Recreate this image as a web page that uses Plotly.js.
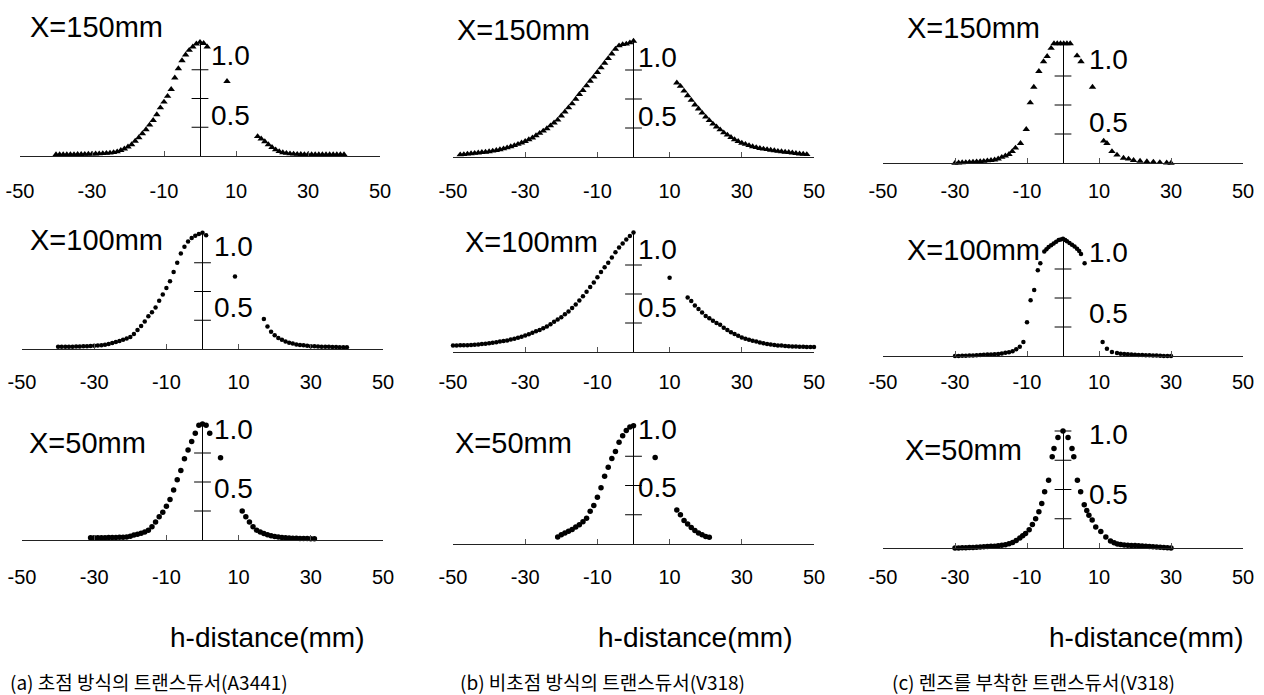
<!DOCTYPE html>
<html><head><meta charset="utf-8">
<script src="https://cdn.plot.ly/plotly-3.0.1.min.js"></script>
<style>html,body{margin:0;padding:0;background:#fff;} #chart{width:1264px;height:695px;}</style>
</head><body><div id="chart"></div>
<script>
// ---------------- DATA ----------------
const panelTitles = ['X=150mm','X=150mm','X=150mm','X=100mm','X=100mm','X=100mm','X=50mm','X=50mm','X=50mm'];
const xTickVals = [-50,-30,-10,10,30,50];
const yTickVals = [0.25,0.5,0.75];
const yTickValsFull = [0.25,0.5,0.75,1.0];
const yLabelTexts = ['1.0','0.5'];
const xAxisTitle = 'h-distance(mm)';
const captions = ['(a) 초점 방식의 트랜스듀서(A3441)','(b) 비초점 방식의 트랜스듀서(V318)','(c) 렌즈를 부착한 트랜스듀서(V318)'];

// (a) focused, X=150mm
const a150X = [-40,-39,-38,-37,-36,-35,-34,-33,-32,-31,-30,-29,-28,-27,-26,-25,-24,-23,-22,-21,-20,-19,-18,-17,-16,-15,-14,-13,-12,-11,-10,-9,-8,-7,-6,-5,-4,-3,-2,-1,0,1,2,
  7.5,
  16,17,18,19,20,21,22,23,24,25,26,27,28,29,30,31,32,33,34,35,36,37,38,39,40];
const a150Y = [.012,.012,.013,.013,.014,.014,.015,.015,.016,.017,.018,.019,.02,.022,.024,.027,.031,.038,.05,.063,.08,.10,.13,.16,.195,.23,.27,.31,.36,.42,.47,.52,.58,.68,.76,.83,.88,.92,.95,.975,.99,.98,.95,
  .65,
  .17,.15,.125,.10,.075,.055,.04,.03,.024,.02,.018,.016,.015,.014,.014,.013,.013,.013,.012,.012,.012,.012,.012,.012,.012];

// (b) non-focused, X=150mm
const b150X = [-48,-47,-46,-45,-44,-43,-42,-41,-40,-39,-38,-37,-36,-35,-34,-33,-32,-31,-30,-29,-28,-27,-26,-25,-24,-23,-22,-21,-20,-19,-18,-17,-16,-15,-14,-13,-12,-11,-10,-9,-8,-7,-6,-5,-4,-3,-2,-1,0,
  12,13,14,15,16,17,18,19,20,21,22,23,24,25,26,27,28,29,30,31,32,33,34,35,36,37,38,39,40,41,42,43,44,45,46,47,48];
const b150Y = [.02,.022,.026,.03,.033,.036,.04,.043,.047,.052,.058,.064,.072,.08,.09,.10,.11,.122,.135,.15,.165,.185,.205,.225,.245,.27,.295,.32,.355,.39,.425,.46,.50,.54,.575,.615,.655,.69,.73,.77,.81,.85,.89,.93,.96,.97,.975,.985,1.0,
  .64,.61,.57,.53,.49,.45,.415,.38,.345,.315,.285,.26,.235,.21,.19,.17,.15,.135,.12,.11,.10,.09,.082,.075,.07,.065,.06,.055,.05,.047,.043,.04,.036,.032,.028,.025,.022];

// (c) with lens, X=150mm
const c150X = [-30,-29,-28,-27,-26,-25,-24,-23,-22,-21,-20,-19,-18,-17,-16,-15,-14.1,-13.2,-11.8,-10.2,-9.1,-8.1,-6.7,-5.4,-4.4,-3.3,-2.5,-1.6,-0.7,0.2,1.1,2,3.9,5,
  8.2,11.3,12.2,13.6,15,16.8,18.2,19.6,21.4,23.3,25.1,26.9,28.8,30];
const c150Y = [0,.002,.004,.005,.007,.009,.011,.013,.016,.02,.023,.028,.036,.05,.062,.075,.10,.13,.17,.29,.52,.655,.79,.875,.92,.99,1.03,1.03,1.03,1.03,1.03,1.03,.925,.875,
  .655,.19,.17,.10,.07,.043,.035,.023,.017,.012,.009,.005,.002,0];

// (a) focused, X=100mm
const a100X = [-40,-39,-38,-37,-36,-35,-34,-33,-32,-31,-30,-29,-28,-27,-26,-25,-24,-23,-22,-21,-20,-19,-18,-17,-16,-15,-14,-13,-12,-11,-10,-9,-8,-7,-6,-5,-4,-3,-2,-1,0,1,
  9,
  17,18,19,20,21,22,23,24,25,26,27,28,29,30,31,32,33,34,35,36,37,38,39,40];
const a100Y = [.02,.02,.02,.02,.02,.021,.022,.023,.024,.026,.028,.03,.033,.038,.044,.052,.06,.07,.08,.092,.105,.13,.165,.20,.24,.285,.32,.36,.42,.475,.53,.59,.67,.75,.83,.89,.935,.965,.985,1.0,1.01,.99,
  .63,
  .26,.195,.15,.12,.095,.08,.065,.055,.048,.04,.035,.032,.028,.025,.023,.022,.02,.02,.019,.018,.017,.016,.016,.015];

// (b) non-focused, X=100mm
const b100X = [-50,-49,-48,-47,-46,-45,-44,-43,-42,-41,-40,-39,-38,-37,-36,-35,-34,-33,-32,-31,-30,-29,-28,-27,-26,-25,-24,-23,-22,-21,-20,-19,-18,-17,-16,-15,-14,-13,-12,-11,-10,-9,-8,-7,-6,-5,-4,-3,-2,-1,0,
  10,
  15,16,17,18,19,20,21,22,23,24,25,26,27,28,29,30,31,32,33,34,35,36,37,38,39,40,41,42,43,44,45,46,47,48,49,50];
const b100Y = [.057,.057,.058,.058,.059,.06,.062,.065,.068,.072,.076,.08,.085,.09,.095,.10,.107,.115,.123,.132,.142,.153,.165,.178,.19,.205,.22,.24,.26,.28,.30,.325,.35,.38,.41,.445,.48,.52,.56,.60,.645,.69,.73,.77,.815,.86,.90,.935,.97,1.0,1.03,
  .64,
  .47,.44,.40,.37,.34,.31,.29,.27,.25,.235,.21,.19,.17,.155,.14,.125,.115,.105,.097,.09,.082,.075,.07,.065,.06,.057,.055,.052,.05,.048,.047,.046,.045,.044,.043,.043];

// (c) with lens, X=100mm
const c100X = [-30,-29,-28,-27,-26,-25,-24,-23,-22,-21,-20,-19,-18,-17,-16,-15,-14,-13,-12,-11,-10,-9,-8,-7,-6.3,-5.2,-4.6,-4,-3.3,-2.6,-1.9,-1.2,-0.6,0,0.6,1.1,1.8,2.5,3.2,3.9,4.5,5,6,
  11,12.2,13.6,15,16,17,18,19,20,21,22,23,24,25,26,27,28,29,30];
const c100Y = [0,0,.002,.003,.004,.005,.006,.008,.01,.012,.014,.016,.018,.022,.027,.032,.042,.058,.08,.12,.29,.48,.57,.74,.80,.90,.92,.94,.955,.97,.985,1.0,1.005,1.01,1.0,.99,.975,.96,.945,.925,.905,.88,.80,
  .12,.063,.034,.025,.02,.017,.015,.013,.011,.009,.008,.007,.006,.005,.004,.002,.001,0,0];

// (a) focused, X=50mm
const a50X = [-31,-30,-29,-28,-27,-26,-25,-24,-23,-22,-21,-20,-19,-18,-17,-16,-15,-14,-13,-12,-11,-10,-9,-8,-7,-6,-5,-4,-3,-2,-1,0,1,2,
  5,
  11,12,13,14,15,16,17,18,19,20,21,22,23,24,25,26,27,28,29,30,31];
const a50Y = [.02,.02,.02,.02,.02,.021,.022,.022,.023,.024,.026,.033,.043,.05,.058,.068,.085,.115,.155,.20,.24,.29,.35,.43,.52,.60,.70,.775,.85,.92,.99,1.0,.99,.92,
  .71,
  .25,.20,.155,.115,.085,.068,.055,.045,.036,.03,.025,.022,.02,.018,.016,.015,.014,.013,.012,.011,.01];

// (b) non-focused, X=50mm
const b50X = [-21,-20,-19,-18,-17,-16,-15,-14,-13,-12,-11,-10,-9,-8,-7,-6,-5,-4,-3,-2,-1,0,
  6,
  12,13,14,15,16,17,18,19,20,21];
const b50Y = [.06,.078,.095,.11,.125,.145,.165,.19,.22,.28,.33,.40,.48,.58,.655,.73,.79,.87,.925,.97,1.0,1.01,
  .74,
  .29,.25,.20,.17,.14,.115,.095,.08,.065,.057];

// (c) with lens, X=50mm
const c50X = [-30,-29,-28,-27,-26,-25,-24,-23,-22,-21,-20,-19,-18,-17,-16,-15,-14,-13,-12,-11.2,-10.4,-9.4,-8.5,-7.6,-6.7,-5.9,-5.1,-4,-3,-2.5,-1.4,0,1.4,2.5,3,4,4.9,5.9,6.6,7.2,8.1,9.1,10.5,11.9,13.2,14.2,15.1,16,17,18,19,20,21,22,23,24,25,26,27,28,29,30];
const c50Y = [0,.001,.002,.003,.004,.005,.007,.009,.011,.012,.014,.016,.019,.023,.028,.036,.048,.065,.085,.105,.125,.155,.20,.25,.31,.38,.48,.58,.78,.85,.945,1.0,.945,.85,.78,.58,.48,.37,.32,.28,.24,.18,.14,.095,.06,.045,.035,.03,.025,.024,.022,.021,.02,.018,.016,.013,.01,.008,.006,.004,.002,0];

// ---------------- LAYOUT GEOMETRY (pixels) ----------------
const W = 1264, H = 695;
const panelData = [[a150X,a150Y],[b150X,b150Y],[c150X,c150Y],[a100X,a100Y],[b100X,b100Y],[c100X,c100Y],[a50X,a50Y],[b50X,b50Y],[c50X,c50Y]];
const geom = [
  {x0:20, x1:380, base:156, unit:115, gap:17, tl:[28,27],  lx:2.5, l1:.87, l2:.35, sym:'triangle-up', ms:6.5, full:false},
  {x0:453,x1:814, base:157, unit:116, gap:16, tl:[455,30], lx:0.8, l1:.86, l2:.35, sym:'triangle-up', ms:6.5, full:false},
  {x0:883,x1:1243,base:163, unit:116, gap:10, tl:[905,28], lx:6.7, l1:.89, l2:.35, sym:'triangle-up', ms:6.5, full:false},
  {x0:22, x1:383, base:349, unit:115, gap:15, tl:[28,240], lx:2.5, l1:.89, l2:.365,sym:'circle', ms:4.5, full:false},
  {x0:453,x1:814, base:352, unit:116, gap:12, tl:[463,242],lx:0.8, l1:.88, l2:.38, sym:'circle', ms:4.5, full:false},
  {x0:883,x1:1243,base:356, unit:116, gap:8,  tl:[905,250],lx:6.7, l1:.89, l2:.37, sym:'circle', ms:4.5, full:false},
  {x0:22, x1:383, base:540, unit:116, gap:19, tl:[27,443], lx:2.5, l1:.95, l2:.44, sym:'circle', ms:5.5, full:false},
  {x0:453,x1:814, base:544, unit:117, gap:15, tl:[453,443],lx:0.6, l1:.98, l2:.48, sym:'circle', ms:5.5, full:false},
  {x0:883,x1:1243,base:548, unit:117, gap:11, tl:[903,450],lx:6.8, l1:.97, l2:.46, sym:'circle', ms:5.5, full:true}
];
const bottomTitleLeft = [168, 596, 1047];
const captionLeft = [8, 458, 890];

const FONT = 'Arial, "Liberation Sans", sans-serif';
const NARROW = '"Liberation Sans Narrow", "Arial Narrow", Arial, "Liberation Sans", sans-serif';
const traces = [];
const annotations = [];
const layout = {
  width: W, height: H, margin: {l:0, r:0, t:0, b:0},
  paper_bgcolor: '#fff', plot_bgcolor: 'rgba(0,0,0,0)', showlegend: false,
  font: {family: FONT, color: '#000'}
};

panelData.forEach(([xs, ys], i) => {
  const g = geom[i];
  const n = i + 1;
  const xa = 'x' + (n === 1 ? '' : n), ya = 'y' + (n === 1 ? '' : n);
  const yMax = Math.max(...ys);
  const bottom = 1 - g.base / H;
  const top = 1 - (g.base - yMax * g.unit) / H;
  layout['xaxis' + (n === 1 ? '' : n)] = {
    domain: [g.x0 / W, g.x1 / W], anchor: ya, range: [-50, 50], fixedrange: true,
    tickmode: 'array', tickvals: xTickVals, ticktext: xTickVals.map(String),
    ticks: 'inside', ticklen: 5, tickwidth: 1, tickcolor: '#555',
    ticklabelstandoff: g.gap,
    tickfont: {family: NARROW, size: 20, color: '#000'},
    showline: true, linecolor: '#222', linewidth: 1,
    showgrid: false, zeroline: true, zerolinecolor: '#000', zerolinewidth: 1
  };
  layout['yaxis' + (n === 1 ? '' : n)] = {
    domain: [bottom, top], anchor: xa, range: [0, yMax], fixedrange: true, visible: false
  };
  traces.push({
    type: 'scatter', mode: 'markers', x: xs, y: ys, xaxis: xa, yaxis: ya,
    marker: {symbol: g.sym, size: g.ms, color: '#000', line: {width: 0}},
    cliponaxis: false, hoverinfo: 'skip'
  });
  const tv = g.full ? yTickValsFull : yTickVals;
  traces.push({
    type: 'scatter', mode: 'markers', x: tv.map(() => 0), y: tv, xaxis: xa, yaxis: ya,
    marker: {symbol: 'line-ew', size: 12, color: '#000', line: {width: 1, color: '#000'}},
    cliponaxis: false, hoverinfo: 'skip'
  });
  annotations.push({xref: xa, yref: ya, x: g.lx, y: g.l1, text: yLabelTexts[0], showarrow: false,
    xanchor: 'left', yanchor: 'middle', font: {family: FONT, size: 28, color: '#000'}});
  annotations.push({xref: xa, yref: ya, x: g.lx, y: g.l2, text: yLabelTexts[1], showarrow: false,
    xanchor: 'left', yanchor: 'middle', font: {family: FONT, size: 28, color: '#000'}});
  annotations.push({xref: 'paper', yref: 'paper', x: g.tl[0] / W, y: 1 - g.tl[1] / H, text: panelTitles[i],
    showarrow: false, xanchor: 'left', yanchor: 'middle', font: {family: FONT, size: 29, color: '#000'}});
});

for (let c = 0; c < 3; c++) {
  annotations.push({xref: 'paper', yref: 'paper', x: bottomTitleLeft[c] / W, y: 1 - 637 / H, text: xAxisTitle,
    showarrow: false, xanchor: 'left', yanchor: 'middle', font: {family: FONT, size: 28, color: '#000'}});
  annotations.push({xref: 'paper', yref: 'paper', x: captionLeft[c] / W, y: 1 - 681 / H, text: captions[c],
    showarrow: false, xanchor: 'left', yanchor: 'middle', font: {family: '"Noto Sans CJK KR", sans-serif', size: 19, color: '#000'}});
}
layout.annotations = annotations;

Plotly.newPlot('chart', traces, layout, {displayModeBar: false, staticPlot: true});
</script></body></html>
